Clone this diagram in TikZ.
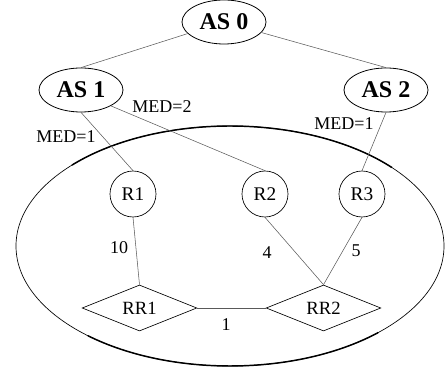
\documentclass[tikz,border=0pt]{standalone}
\usepackage{fontspec}
\setmainfont{Liberation Serif}
\usetikzlibrary{shapes.geometric}

\tikzset{
  asnode/.style={draw, ellipse, line width=0.6pt, minimum width=63pt, minimum height=33pt, inner sep=0pt, font=\fontsize{18}{20}\selectfont\bfseries},
  rnode/.style={draw, circle, line width=0.5pt, minimum size=34.5pt, inner sep=0pt, font=\fontsize{14.5}{16}\selectfont},
  rrnode/.style={draw, diamond, aspect=2.5, line width=0.5pt, minimum width=86pt, minimum height=34.5pt, inner sep=0pt, font=\fontsize{14}{16}\selectfont},
  link/.style={draw=black!65, line width=0.4pt},
  lbl/.style={inner sep=0.75pt, font=\fontsize{13.5}{16}\selectfont},
}

\begin{document}
\begin{tikzpicture}[x=0.75pt,y=0.75pt,yscale=-1,xscale=1]
\useasboundingbox (0,0) rectangle (445,370);

%Shape: Ellipse (the AS)
\draw [line width=0.5pt] (230,246) ellipse (214 and 120);
\draw [line width=1.1pt] (230,246) ++(222.4:214 and 120) arc [start angle=222.4, end angle=319.2, x radius=214, y radius=120];
\draw [line width=1.1pt] (230,246) ++(46.2:214 and 120) arc [start angle=46.2, end angle=131.6, x radius=214, y radius=120];

% AS nodes
\node [asnode] (as0) at (224,22) {AS 0};
\node [asnode] (as1) at (81,90) {AS 1};
\node [asnode] (as2) at (386,90) {AS 2};

% Router nodes
\node [rnode] (r1) at (133,194) {R1};
\node [rnode] (r2) at (265,194) {R2};
\node [rnode] (r3) at (362,194) {R3};

% Route reflectors
\node [rrnode] (rr1) at (139.5,308) {RR1};
\node [rrnode] (rr2) at (323.5,308) {RR2};

%Straight Lines
\draw [link] (as0) -- (as1.north);
\draw [link] (as0) -- (as2.north);
\draw [link] (as1.south) -- (r1.north);
\draw [link] (as1.-28) -- (r2.north);
\draw [link] (as2.south) -- (r3.north);
\draw [link] (r1.south) -- (rr1.north);
\draw [link] (r2.south) -- (rr2.north);
\draw [link] (r3.south) -- (rr2.north);
\draw [link] (rr1.east) -- (rr2.west);

% Text Node
\node [lbl] (med11) at (66,137) {MED=1};
% Text Node
\node [lbl] (med12) at (162,107) {MED=2};
% Text Node
\node [lbl] (med21) at (344,124) {MED=1};
% Text Node
\node [lbl] (w10) at (119,248) {10};
% Text Node
\node [lbl] (w4) at (267,253) {4};
% Text Node
\node [lbl] (w5) at (356,251) {5};
% Text Node
\node [lbl] (w1) at (226,325) {1};

\end{tikzpicture}
\end{document}
